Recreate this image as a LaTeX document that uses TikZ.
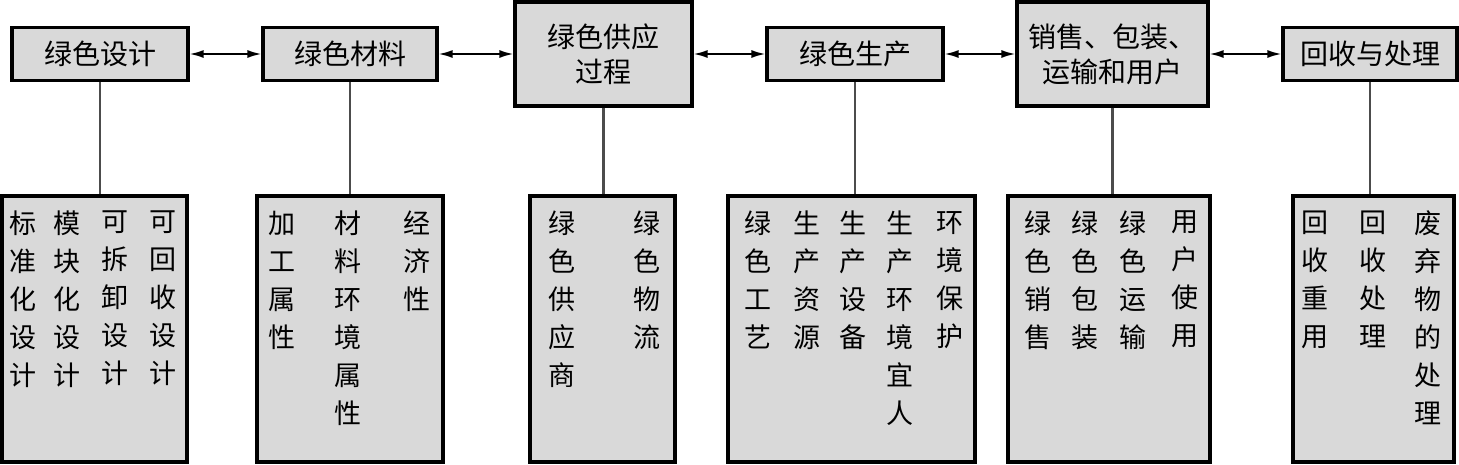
\documentclass[tikz,border=0pt]{standalone}
\usepackage{fontspec}
\newfontfamily\cjk{Noto Sans CJK SC}
\usetikzlibrary{arrows.meta}

\begin{document}
\begin{tikzpicture}[x=1pt,y=-1pt,
  topbox/.style={draw,line width=3.2pt,fill=black!15,inner sep=0pt,align=center,font=\cjk\fontsize{28}{35}\selectfont},
  subbox/.style={draw,line width=3.2pt,fill=black!15,inner sep=0pt,minimum height=266pt},
  vcol/.style={anchor=north,align=center,inner sep=0pt,font=\cjk\fontsize{27}{38}\selectfont},
  link/.style={draw=black!70,line width=2.4pt},
  pair/.style={{Latex[length=14pt,width=8pt]}-{Latex[length=14pt,width=8pt]},line width=1.8pt}]
\useasboundingbox (0,0) rectangle (1459,464);

% top row
\node[topbox,minimum width=176pt,minimum height=53pt] (design) at (100,54) {绿色设计};
\node[topbox,minimum width=174pt,minimum height=53pt] (material) at (350,54) {绿色材料};
\node[topbox,minimum width=177pt,minimum height=104pt] (supply) at (603.5,54) {绿色供应\\过程};
\node[topbox,minimum width=176pt,minimum height=53pt] (produce) at (855,54) {绿色生产};
\node[topbox,minimum width=191pt,minimum height=104pt] (sales) at (1112.5,54) {销售、包装、\\运输和用户};
\node[topbox,minimum width=174pt,minimum height=53pt] (recycle) at (1370,54) {回收与处理};

% bottom row
\node[subbox,minimum width=185pt] (designsub) at (94.5,329) {};
\node[subbox,minimum width=186pt] (materialsub) at (350,329) {};
\node[subbox,minimum width=145pt] (supplysub) at (602.5,329) {};
\node[subbox,minimum width=247pt] (producesub) at (851.5,329) {};
\node[subbox,minimum width=202pt] (salessub) at (1109,329) {};
\node[subbox,minimum width=161pt] (recyclesub) at (1373.5,329) {};

% columns of text
\node[vcol] (d1) at (23,211) {标\\准\\化\\设\\计};
\node[vcol] (d2) at (67,211) {模\\块\\化\\设\\计};
\node[vcol] (d3) at (115,211) {可\\拆\\卸\\设\\计};
\node[vcol] (d4) at (163,211) {可\\回\\收\\设\\计};
\node[vcol] (m1) at (282,211) {加\\工\\属\\性};
\node[vcol] (m2) at (348,211) {材\\料\\环\\境\\属\\性};
\node[vcol] (m3) at (417,211) {经\\济\\性};
\node[vcol] (s1) at (562,211) {绿\\色\\供\\应\\商};
\node[vcol] (s2) at (647,211) {绿\\色\\物\\流};
\node[vcol] (p1) at (758,211) {绿\\色\\工\\艺};
\node[vcol] (p2) at (807,211) {生\\产\\资\\源};
\node[vcol] (p3) at (853,211) {生\\产\\设\\备};
\node[vcol] (p4) at (900,211) {生\\产\\环\\境\\宜\\人};
\node[vcol] (p5) at (950,211) {环\\境\\保\\护};
\node[vcol] (u1) at (1038,211) {绿\\色\\销\\售};
\node[vcol] (u2) at (1085,211) {绿\\色\\包\\装};
\node[vcol] (u3) at (1133,211) {绿\\色\\运\\输};
\node[vcol] (u4) at (1185,211) {用\\户\\使\\用};
\node[vcol] (r1) at (1315,211) {回\\收\\重\\用};
\node[vcol] (r2) at (1373,211) {回\\收\\处\\理};
\node[vcol] (r3) at (1428,211) {废\\弃\\物\\的\\处\\理};

% connectors
\draw[pair] (design) -- (material);
\draw[pair] (material) -- (supply);
\draw[pair] (supply) -- (produce);
\draw[pair] (produce) -- (sales);
\draw[pair] (sales) -- (recycle);
\draw[link] (design) -- (design |- designsub.north);
\draw[link] (material) -- (material |- materialsub.north);
\draw[link] (supply) -- (supply |- supplysub.north);
\draw[link] (produce) -- (produce |- producesub.north);
\draw[link] (sales) -- (sales |- salessub.north);
\draw[link] (recycle) -- (recycle |- recyclesub.north);
\end{tikzpicture}
\end{document}
